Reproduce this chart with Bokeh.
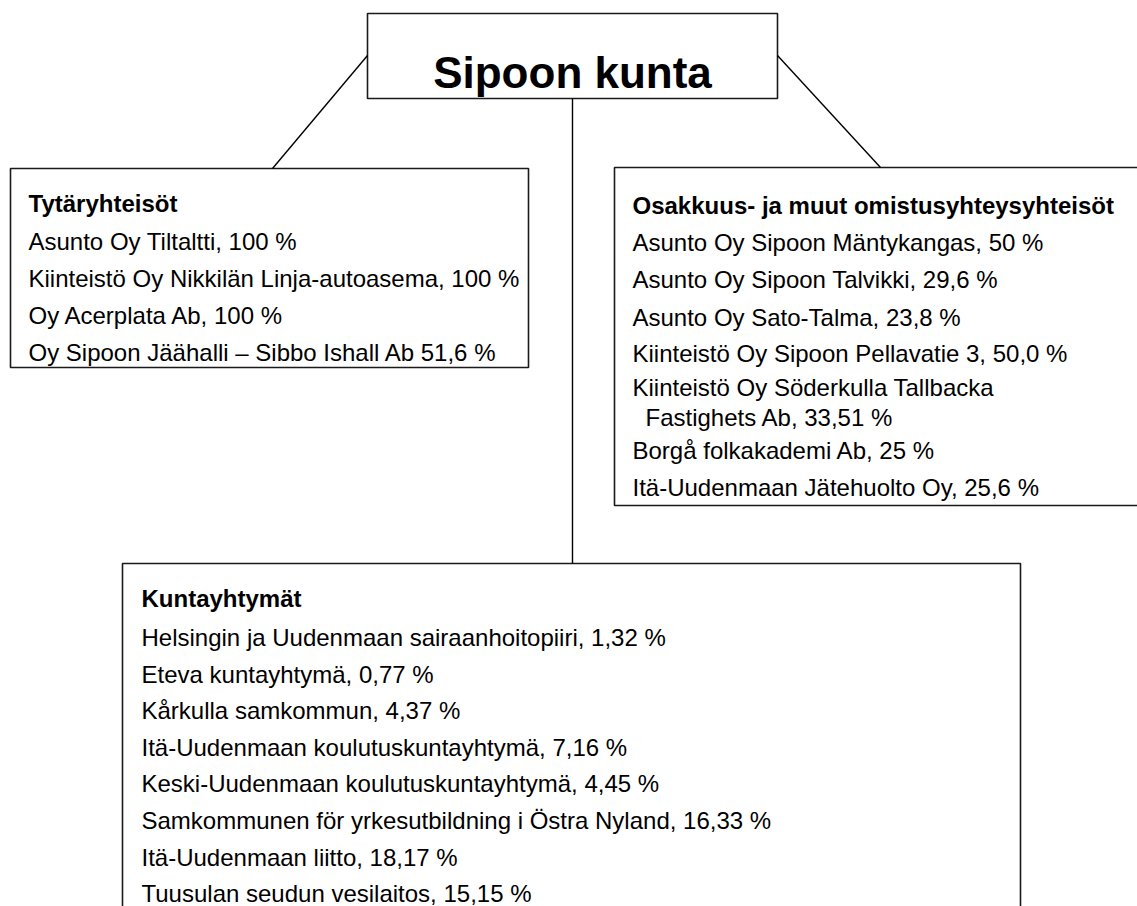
from bokeh.plotting import figure
from bokeh.models import Range1d
from bokeh.core.properties import value
from bokeh.embed import file_html
from bokeh.resources import INLINE

# ---- data (texts of the organisation chart) ----
title = "Sipoon kunta"

sub_heading = "Tytäryhteisöt"
sub_items = [
    "Asunto Oy Tiltaltti, 100 %",
    "Kiinteistö Oy Nikkilän Linja-autoasema,  100 %",
    "Oy Acerplata Ab, 100 %",
    "Oy Sipoon Jäähalli – Sibbo Ishall Ab 51,6 %",
]

assoc_heading = "Osakkuus-  ja muut omistusyhteysyhteisöt"
assoc_items = [
    "Asunto Oy Sipoon Mäntykangas, 50 %",
    "Asunto Oy Sipoon Talvikki, 29,6 %",
    "Asunto Oy Sato-Talma, 23,8 %",
    "Kiinteistö Oy Sipoon Pellavatie 3, 50,0 %",
    "Kiinteistö Oy Söderkulla Tallbacka\nFastighets Ab, 33,51 %",
    "Borgå folkakademi Ab, 25 %",
    "Itä-Uudenmaan  Jätehuolto Oy, 25,6 %",
]

jm_heading = "Kuntayhtymät"
jm_items = [
    "Helsingin ja Uudenmaan sairaanhoitopiiri, 1,32 %",
    "Eteva kuntayhtymä, 0,77 %",
    "Kårkulla samkommun, 4,37 %",
    "Itä-Uudenmaan koulutuskuntayhtymä, 7,16 %",
    "Keski-Uudenmaan koulutuskuntayhtymä, 4,45 %",
    "Samkommunen för yrkesutbildning i Östra Nyland, 16,33 %",
    "Itä-Uudenmaan liitto, 18,17 %",
    "Tuusulan seudun vesilaitos, 15,15 %",
]

# ---- layout (picture pixel coordinates) ----
W, H = 1137, 906
p = figure(width=W, height=H, output_backend="svg", toolbar_location=None,
           x_range=Range1d(0, W), y_range=Range1d(H, 0),
           min_border=0, outline_line_color=None)
p.axis.visible = False
p.grid.visible = False
p.background_fill_color = "white"
p.border_fill_color = "white"

FONT = value("Liberation Sans")
FS = value("24px")

# boxes: left, top, right, bottom
boxes = [
    (367, 13, 777, 98),      # title
    (10, 168, 528, 367),     # Tytäryhteisöt
    (614, 167, 1300, 505),   # Osakkuus
    (122, 563, 1020, 1100),  # Kuntayhtymät
]
p.quad(left=[b[0] for b in boxes], top=[b[1] for b in boxes],
       right=[b[2] for b in boxes], bottom=[b[3] for b in boxes],
       fill_color=None, line_color="#1a1a1a", line_width=1.6)

# connector lines
p.segment(x0=[367, 777, 572], y0=[55, 55, 98], x1=[272, 880, 572], y1=[168, 167, 563],
          line_color="black", line_width=1.4)

# title
p.text(x=[572], y=[72], text=[title], text_font=FONT, text_font_size=value("44px"),
       text_font_style="bold", text_align="center", text_baseline="alphabetic",
       text_color="black")


def draw_group(x, heading, head_y, items, baselines, indent=13):
    p.text(x=[x], y=[head_y], text=[heading], text_font=FONT, text_font_size=FS,
           text_font_style="bold", text_align="left", text_baseline="alphabetic",
           text_color="black")
    xs, ys, ts = [], [], []
    k = 0
    for item in items:
        for j, line in enumerate(item.split("\n")):
            xs.append(x + (indent if j > 0 else 0))
            ys.append(baselines[k])
            ts.append(line)
            k += 1
    p.text(x=xs, y=ys, text=ts, text_font=FONT, text_font_size=FS,
           text_align="left", text_baseline="alphabetic", text_color="black")


draw_group(28, sub_heading, 203, sub_items, [241, 278, 315, 352])
draw_group(632, assoc_heading, 205, assoc_items, [242, 279, 317, 353, 387, 417, 450, 487])
draw_group(141, jm_heading, 598, jm_items, [637 + 36.6 * i for i in range(len(jm_items))])

open("out.html", "w").write(file_html(p, INLINE))
